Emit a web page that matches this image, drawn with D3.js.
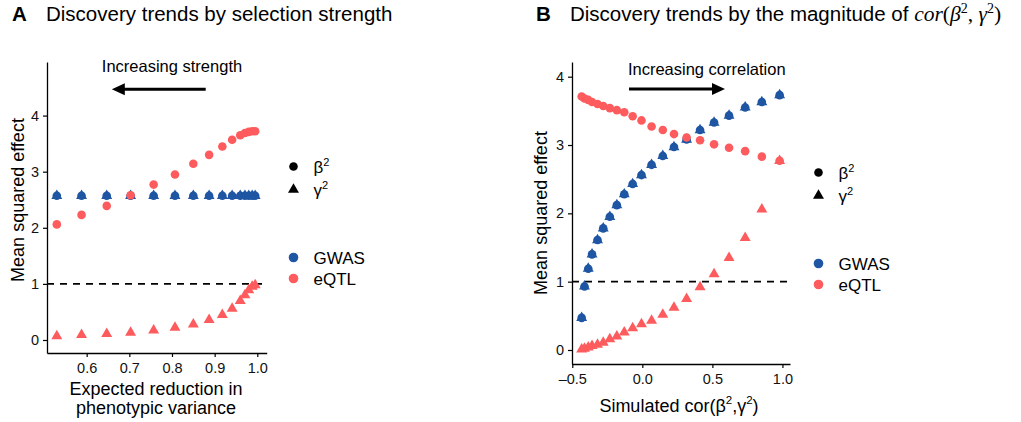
<!DOCTYPE html>
<html>
<head>
<meta charset="utf-8">
<script src="https://cdn.jsdelivr.net/npm/d3@7"></script>
<style>
  html, body { margin: 0; padding: 0; background: #fff; }
  svg { display: block; font-family: "Liberation Sans", Arial, sans-serif; }
</style>
</head>
<body>
<svg id="chart" width="1021" height="422"></svg>
<script>
// Panel A: expected reduction in phenotypic variance
const selX = [0.530, 0.588, 0.647, 0.703, 0.757, 0.807, 0.850, 0.887, 0.918, 0.941, 0.960, 0.971, 0.980, 0.988, 0.995];
const selGwas = [2.57, 2.57, 2.57, 2.57, 2.57, 2.57, 2.57, 2.57, 2.57, 2.57, 2.57, 2.57, 2.57, 2.57, 2.57];
const selEqtlBeta = [2.06, 2.23, 2.39, 2.58, 2.77, 2.95, 3.14, 3.30, 3.45, 3.57, 3.65, 3.69, 3.71, 3.72, 3.72];
const selEqtlGamma = [0.07, 0.09, 0.11, 0.13, 0.17, 0.22, 0.28, 0.36, 0.45, 0.56, 0.70, 0.80, 0.89, 0.95, 0.98];
const selXTicks = [0.6, 0.7, 0.8, 0.9, 1.0];

// Panel B: simulated correlation of beta^2 and gamma^2
const corX = [-0.433, -0.413, -0.386, -0.359, -0.320, -0.279, -0.232, -0.182, -0.129, -0.069, -0.006,
              0.066, 0.146, 0.226, 0.316, 0.412, 0.512, 0.619, 0.734, 0.853, 0.980];
const corGwas = [0.47, 0.93, 1.19, 1.40, 1.61, 1.78, 1.95, 2.12, 2.28, 2.43, 2.56,
                 2.71, 2.84, 2.97, 3.08, 3.22, 3.33, 3.43, 3.55, 3.63, 3.73];
const corEqtlBeta = [3.71, 3.68, 3.66, 3.63, 3.60, 3.57, 3.54, 3.51, 3.48, 3.42, 3.36,
                     3.27, 3.22, 3.16, 3.11, 3.07, 3.01, 2.96, 2.91, 2.83, 2.77];
const corEqtlGamma = [0.01, 0.02, 0.04, 0.06, 0.08, 0.11, 0.16, 0.20, 0.26, 0.32, 0.38,
                      0.43, 0.52, 0.62, 0.75, 0.92, 1.11, 1.35, 1.64, 2.06, 2.77];
const corXTicks = [-0.5, 0.0, 0.5, 1.0];

const yTicks = [0, 1, 2, 3, 4];
const groups = ["GWAS", "eQTL"];
const colors = { GWAS: "#1f56a3", eQTL: "#fd5b5d" };

const svg = d3.select("#chart");
const circleR = 4.3;
const triSym = d3.symbol().type(d3.symbolTriangle).size(52);
const labelSize = 18;

function panel(cfg) {
  const g = svg.append("g");
  const x = d3.scaleLinear().domain(cfg.xDomain).range([cfg.left, cfg.right]);
  const y = d3.scaleLinear().domain(cfg.yDomain).range([cfg.bottom, cfg.top]);

  // reference line at a mean squared effect of 1
  g.append("line")
    .attr("x1", cfg.left).attr("x2", cfg.right)
    .attr("y1", y(1)).attr("y2", y(1))
    .attr("stroke", "#000").attr("stroke-width", 1.6)
    .attr("stroke-dasharray", "7,6");

  // points: GWAS first, then eQTL; circles beneath triangles
  const series = [
    { grp: "GWAS", shape: "circle", vals: cfg.gwas },
    { grp: "GWAS", shape: "tri", vals: cfg.gwas },
    { grp: "eQTL", shape: "circle", vals: cfg.eqtlBeta },
    { grp: "eQTL", shape: "tri", vals: cfg.eqtlGamma }
  ];
  series.forEach(s => {
    const pts = cfg.xs.map((xv, i) => [xv, s.vals[i]]);
    if (s.shape === "circle") {
      g.append("g").selectAll("circle").data(pts).join("circle")
        .attr("cx", d => x(d[0])).attr("cy", d => y(d[1]))
        .attr("r", circleR).attr("fill", colors[s.grp]);
    } else {
      g.append("g").selectAll("path").data(pts).join("path")
        .attr("d", triSym)
        .attr("transform", d => `translate(${x(d[0])},${y(d[1])})`)
        .attr("fill", colors[s.grp]);
    }
  });

  // axes
  const xAxis = g.append("g").attr("transform", `translate(0,${cfg.bottom})`)
    .call(d3.axisBottom(x).tickValues(cfg.xTicks).tickFormat(d3.format(".1f"))
      .tickSizeInner(4).tickSizeOuter(0).tickPadding(6));
  const yAxis = g.append("g").attr("transform", `translate(${cfg.left},0)`)
    .call(d3.axisLeft(y).tickValues(yTicks).tickFormat(d3.format("d"))
      .tickSizeInner(4).tickSizeOuter(0).tickPadding(4));
  [xAxis, yAxis].forEach(a => {
    a.select(".domain").attr("stroke", "#000").attr("stroke-width", 1.3);
    a.selectAll(".tick line").attr("stroke", "#000").attr("stroke-width", 1.2);
    a.selectAll(".tick text").attr("font-size", 14.5).attr("fill", "#111")
      .attr("font-family", "Liberation Sans, Arial, sans-serif");
  });
  xAxis.selectAll(".tick text").text(d => d < 0 ? "\u2013" + d3.format(".1f")(-d) : d3.format(".1f")(d));

  // y title
  g.append("text")
    .attr("transform", `translate(${cfg.yTitleX},${cfg.yTitleY}) rotate(-90)`)
    .attr("text-anchor", "middle").attr("font-size", labelSize).attr("fill", "#000")
    .text("Mean squared effect");

  // annotation arrow and text
  const ay = y(cfg.arrowY);
  g.append("text").attr("x", x(cfg.noteX)).attr("y", y(cfg.noteY))
    .attr("text-anchor", "middle").attr("font-size", 16.5).attr("fill", "#000")
    .text(cfg.note);
  const x0 = x(cfg.arrowFrom), x1 = x(cfg.arrowTo);
  const dir = Math.sign(x1 - x0);
  g.append("line").attr("x1", x0).attr("x2", x1 - dir * 8)
    .attr("y1", ay).attr("y2", ay).attr("stroke", "#000").attr("stroke-width", 3);
  g.append("path")
    .attr("d", `M${x1},${ay} L${x1 - dir * 13},${ay - 6} L${x1 - dir * 13},${ay + 6} Z`)
    .attr("fill", "#000");

  // legends
  const lx = cfg.legendX, tx = cfg.legendX + 20;
  g.append("circle").attr("cx", lx).attr("cy", cfg.legendY).attr("r", circleR).attr("fill", "#000");
  g.append("path").attr("d", triSym).attr("transform", `translate(${lx},${cfg.legendY + 23})`).attr("fill", "#000");
  const keyB = g.append("text").attr("x", tx).attr("y", cfg.legendY + 6).attr("font-size", 17);
  keyB.append("tspan").text("\u03b2");
  keyB.append("tspan").attr("dy", -7).attr("font-size", 11).text("2");
  const keyG = g.append("text").attr("x", tx).attr("y", cfg.legendY + 29).attr("font-size", 17);
  keyG.append("tspan").text("\u03b3");
  keyG.append("tspan").attr("dy", -7).attr("font-size", 11).text("2");

  groups.forEach((grp, i) => {
    const cy = cfg.legendY + 91 + i * 21;
    g.append("circle").attr("cx", lx).attr("cy", cy).attr("r", circleR + 0.5).attr("fill", colors[grp]);
    g.append("text").attr("x", tx).attr("y", cy + 6).attr("font-size", 17).attr("fill", "#000").text(grp);
  });
  return g;
}

// Panel A
panel({
  left: 47, right: 266.7, top: 62, bottom: 353,
  xDomain: [0.507, 1.022], yDomain: [-0.232, 4.955],
  xs: selX, gwas: selGwas, eqtlBeta: selEqtlBeta, eqtlGamma: selEqtlGamma,
  xTicks: selXTicks,
  yTitleX: 24, yTitleY: 200,
  note: "Increasing strength", noteX: 0.80, noteY: 4.78,
  arrowFrom: 0.879, arrowTo: 0.659, arrowY: 4.47,
  legendX: 293.5, legendY: 166.5
});

// Panel B
panel({
  left: 572, right: 790, top: 62, bottom: 364,
  xDomain: [-0.502, 1.054], yDomain: [-0.205, 4.215],
  xs: corX, gwas: corGwas, eqtlBeta: corEqtlBeta, eqtlGamma: corEqtlGamma,
  xTicks: corXTicks,
  yTitleX: 547, yTitleY: 213,
  note: "Increasing correlation", noteX: 0.46, noteY: 4.03,
  arrowFrom: -0.095, arrowTo: 0.59, arrowY: 3.82,
  legendX: 818.5, legendY: 172.5
});

// x-axis titles
const xtA = svg.append("text").attr("text-anchor", "middle").attr("font-size", labelSize).attr("fill", "#000");
xtA.append("tspan").attr("x", 156).attr("y", 395).text("Expected reduction in");
xtA.append("tspan").attr("x", 156).attr("y", 414).text("phenotypic variance");

const xtB = svg.append("text").attr("x", 679).attr("y", 412).attr("text-anchor", "middle")
  .attr("font-size", labelSize).attr("fill", "#000");
xtB.append("tspan").text("Simulated cor(\u03b2");
xtB.append("tspan").attr("dy", -8).attr("font-size", 11.5).text("2");
xtB.append("tspan").attr("dy", 8).text(",\u03b3");
xtB.append("tspan").attr("dy", -8).attr("font-size", 11.5).text("2");
xtB.append("tspan").attr("dy", 8).text(")");

// panel titles
const titleSize = 20.5;
const tA = svg.append("text").attr("y", 21).attr("font-size", titleSize).attr("fill", "#000");
tA.append("tspan").attr("x", 12).attr("font-weight", "bold").text("A");
tA.append("tspan").attr("x", 46).text("Discovery trends by selection strength");

const tB = svg.append("text").attr("y", 21).attr("font-size", titleSize).attr("fill", "#000");
tB.append("tspan").attr("x", 536).attr("font-weight", "bold").text("B");
tB.append("tspan").attr("x", 570).text("Discovery trends by the magnitude of ");
const serif = "font-family: 'Liberation Serif', 'DejaVu Serif', serif;";
const mathStyle = serif + " font-style: italic;";
tB.append("tspan").attr("style", mathStyle).attr("font-size", 21.5).text("cor");
tB.append("tspan").attr("style", serif).attr("font-size", 21.5).text("(");
tB.append("tspan").attr("style", mathStyle).attr("font-size", 21.5).text("\u03b2");
tB.append("tspan").attr("dy", -8).attr("font-size", 14).attr("style", serif).text("2");
tB.append("tspan").attr("dy", 8).attr("style", serif).attr("font-size", 21.5).text(", ");
tB.append("tspan").attr("style", mathStyle).attr("font-size", 21.5).text("\u03b3");
tB.append("tspan").attr("dy", -8).attr("font-size", 14).attr("style", serif).text("2");
tB.append("tspan").attr("dy", 8).attr("style", serif).attr("font-size", 21.5).text(")");
</script>
</body>
</html>
